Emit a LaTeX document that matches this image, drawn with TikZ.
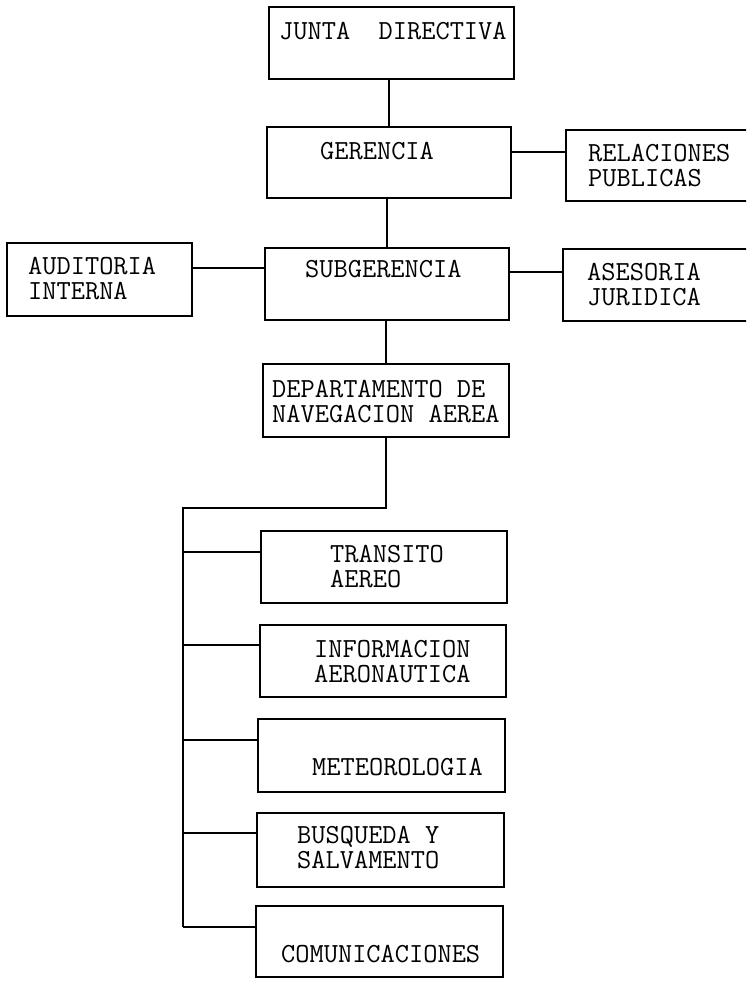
\documentclass[tikz,border=0pt]{standalone}
\usepackage{fontspec}
\begin{document}
\begin{tikzpicture}[x=1pt,y=-1pt,
  orgbox/.style={draw, line width=1.7pt, inner sep=0pt, minimum width=#1},
  orgtxt/.style={anchor=north west, inner sep=0pt, align=left, font=\ttfamily\fontsize{27.6}{25}\selectfont},
  conn/.style={line width=1.7pt}]
\clip (0,0) rectangle (746,981);
\fill[white] (0,0) rectangle (746,981);
% boxes
\node[orgbox=245pt, minimum height=72pt] (j) at (391.5,43) {};
\node[orgbox=244pt, minimum height=71pt] (g) at (389,162.5) {};
\node[orgbox=194pt, minimum height=71pt] (r) at (663,165.5) {};
\node[orgbox=185pt, minimum height=73pt] (a) at (99.5,279.5) {};
\node[orgbox=244pt, minimum height=72pt] (s) at (387,284) {};
\node[orgbox=197pt, minimum height=72pt] (as) at (661.5,285) {};
\node[orgbox=246pt, minimum height=73pt] (d) at (386,400.5) {};
\node[orgbox=246pt, minimum height=72pt] (t) at (384,567) {};
\node[orgbox=246pt, minimum height=72pt] (i) at (383,661) {};
\node[orgbox=247pt, minimum height=73pt] (m) at (381.5,755.5) {};
\node[orgbox=247pt, minimum height=74pt] (b) at (380.5,850) {};
\node[orgbox=247pt, minimum height=71pt] (c) at (379.5,941.5) {};
% texts
\node[orgtxt] (jt) at (279,22) {JUNTA\ \ DIRECTIVA};
\node[orgtxt] (gt) at (320,142) {GERENCIA};
\node[orgtxt] (rt) at (588,144) {RELACIONES\\PUBLICAS};
\node[orgtxt] (at) at (28,257) {AUDITORIA\\INTERNA};
\node[orgtxt] (st) at (305,260) {SUBGERENCIA};
\node[orgtxt] (ast) at (587,263) {ASESORIA\\JURIDICA};
\node[orgtxt] (dt) at (272,380) {DEPARTAMENTO DE\\NAVEGACION AEREA};
\node[orgtxt] (tt) at (330,545) {TRANSITO\\AEREO};
\node[orgtxt] (it) at (314,640) {INFORMACION\\AERONAUTICA};
\node[orgtxt] (mt) at (312,758) {METEOROLOGIA};
\node[orgtxt] (bxt) at (297,826) {BUSQUEDA Y\\SALVAMENTO};
\node[orgtxt] (ct) at (281,945) {COMUNICACIONES};
% connectors
\draw[conn] (g.north) -- (g.north |- j.south);
\draw[conn] (s.north) -- (s.north |- g.south);
\draw[conn] (d.north) -- (d.north |- s.south);
\draw[conn] ([yshift=10.5pt]g.east) -- ([yshift=10.5pt]g.east -| r.west);
\draw[conn] ([yshift=16pt]s.west) -- ([yshift=16pt]s.west -| a.east);
\draw[conn] ([yshift=12pt]s.east) -- ([yshift=12pt]s.east -| as.west);
\coordinate (bt) at (183,508);
\coordinate (bb) at (183,927);
\draw[conn] (d.south) |- (bt) -- (bb);
\draw[conn] ([yshift=15pt]t.west) -- ([yshift=15pt]t.west -| bt);
\draw[conn] ([yshift=16pt]i.west) -- ([yshift=16pt]i.west -| bt);
\draw[conn] ([yshift=15.5pt]m.west) -- ([yshift=15.5pt]m.west -| bt);
\draw[conn] ([yshift=17pt]b.west) -- ([yshift=17pt]b.west -| bt);
\draw[conn] (bb) -- (bb -| c.west);
\end{tikzpicture}
\end{document}
